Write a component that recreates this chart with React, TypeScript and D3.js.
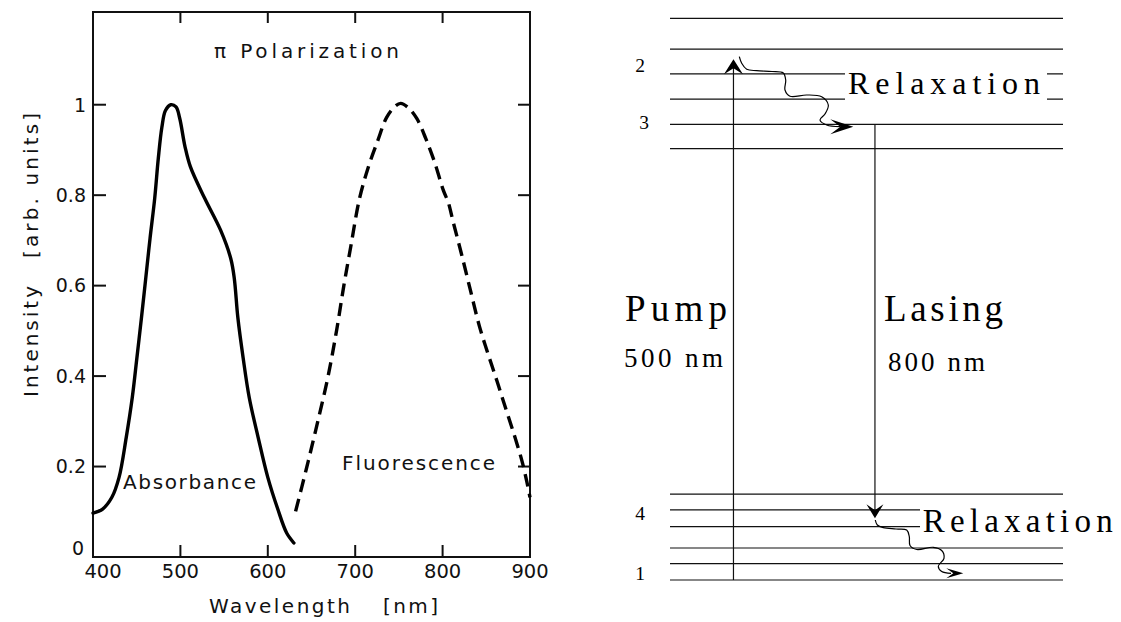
import React from "react";
import * as d3 from "d3";

// ---------- Left chart data ----------
const absWavelength = [400, 411, 421.6, 429.8, 438, 444.9, 450.2, 455.5, 460.4, 465.3, 470.6, 474.7, 478.8, 482.9, 489, 495, 499.2, 505.3, 511.4, 527.8, 546.1, 557.6, 561.6, 565.7, 571.8, 578.8, 589, 600, 611.4, 621.6, 629.8];
const absIntensity = [0.097, 0.106, 0.132, 0.176, 0.264, 0.352, 0.44, 0.53, 0.617, 0.705, 0.793, 0.881, 0.95, 0.987, 1.0, 0.995, 0.97, 0.907, 0.863, 0.793, 0.722, 0.66, 0.617, 0.53, 0.44, 0.352, 0.264, 0.176, 0.106, 0.053, 0.031];

const fluWavelength = [631.8, 644, 656, 668.6, 678.8, 687, 695, 705, 715.5, 725.7, 736, 746, 752, 760.4, 770.6, 780.8, 791, 801, 806.5, 812.2, 821.6, 831.8, 842, 852, 862.4, 872.6, 882.9, 891, 896.3, 900];
const fluIntensity = [0.101, 0.194, 0.29, 0.396, 0.502, 0.6, 0.687, 0.793, 0.865, 0.92, 0.972, 0.997, 1.003, 0.994, 0.969, 0.925, 0.872, 0.81, 0.784, 0.74, 0.67, 0.59, 0.511, 0.449, 0.388, 0.326, 0.264, 0.211, 0.167, 0.132];

const xTickValues = [400, 500, 600, 700, 800, 900];
const xTickLabels = ["400", "500", "600", "700", "800", "900"];
const yTickValues = [0, 0.2, 0.4, 0.6, 0.8, 1];
const yTickLabels = ["0", "0.2", "0.4", "0.6", "0.8", "1"];

// ---------- Right diagram data (energy, arbitrary units) ----------
const upperLevels = [100, 94.5, 90.1, 85.6, 81.1, 76.8];
const lowerLevels = [15.3, 12.5, 9.5, 5.7, 2.9, 0];
const levelNames = ["2", "3", "4", "1"];
const levelNameEnergies = [90.4, 80.3, 10.7, 0];
const pumpFrom = 0;
const pumpTo = 92.7;
const laseFrom = 81.1;
const laseTo = 11.0;

const sansFont = "'DejaVu Sans', Verdana, sans-serif";
const serifFont = "'Liberation Serif', 'Times New Roman', serif";

export default function App() {
  // left chart scales
  const x = d3.scaleLinear().domain([400, 900]).range([93, 530]);
  const y = d3.scaleLinear().domain([0, 1.205]).range([557, 12]);

  const curve = d3
    .line<[number, number]>()
    .x((d) => x(d[0]))
    .y((d) => y(d[1]))
    .curve(d3.curveCatmullRom.alpha(0.5));

  const absPath = curve(absWavelength.map((w, i) => [w, absIntensity[i]]) as [number, number][]) || "";
  const fluPath = curve(fluWavelength.map((w, i) => [w, fluIntensity[i]]) as [number, number][]) || "";

  // right diagram scales
  const e = d3.scaleLinear().domain([0, 100]).range([580, 18.3]);
  const hx = d3.scaleLinear().domain([0, 1]).range([670, 1063]);
  const pumpX = hx(0.1615);
  const laseX = hx(0.5215);

  const wavy = d3
    .line<[number, number]>()
    .x((d) => d[0])
    .y((d) => d[1])
    .curve(d3.curveCatmullRom.alpha(0.5));

  const topWave: [number, number][] = [
    [739.3, 56.7], [741.7, 63.3], [746.7, 69.3], [756.7, 70.7], [772, 71.5], [783.3, 73],
    [785.7, 80], [785, 90], [790, 96.2], [806.7, 95], [821.7, 96.7], [828.3, 105],
    [825, 114], [820, 120], [826.7, 125], [840, 126.7],
  ];
  const botWave: [number, number][] = [
    [875.3, 520], [877.3, 525], [883.3, 527.7], [896, 529], [906.7, 530], [909.3, 536.7],
    [910, 545.5], [916.7, 549.5], [933.3, 547.3], [941.7, 550.5], [944, 558.3],
    [938.3, 566.2], [941.7, 571.5], [951, 573.3],
  ];

  const arrowHead = (tx: number, ty: number, dir: "up" | "down" | "right", len: number, half: number, notch: number) => {
    if (dir === "up")
      return `M${tx},${ty} L${tx + half},${ty + len} L${tx},${ty + len - notch} L${tx - half},${ty + len} Z`;
    if (dir === "down")
      return `M${tx},${ty} L${tx + half},${ty - len} L${tx},${ty - len + notch} L${tx - half},${ty - len} Z`;
    return `M${tx},${ty} L${tx - len},${ty - half} L${tx - len + notch},${ty} L${tx - len},${ty + half} Z`;
  };

  const upperY = upperLevels.map((v) => e(v));
  const lowerY = lowerLevels.map((v) => e(v));

  return (
    <svg
      width={1121}
      height={622}
      style={{ position: "absolute", left: 0, top: 0, background: "#fff" }}
    >
      <rect x={0} y={0} width={1121} height={622} fill="#fff" />

      {/* ---------------- Left chart ---------------- */}
      <g>
        <rect x={x(400)} y={y(1.205)} width={x(900) - x(400)} height={y(0) - y(1.205)} fill="none" stroke="#111" strokeWidth={2} />
        {xTickValues.slice(1, -1).map((t) => (
          <g key={"xt" + t}>
            <line x1={x(t)} x2={x(t)} y1={y(0)} y2={y(0) - 12} stroke="#111" strokeWidth={2} />
            <line x1={x(t)} x2={x(t)} y1={y(1.205)} y2={y(1.205) + 11} stroke="#111" strokeWidth={2} />
          </g>
        ))}
        {yTickValues.slice(1).map((t) => (
          <g key={"yt" + t}>
            <line x1={x(400)} x2={x(400) + 13} y1={y(t)} y2={y(t)} stroke="#111" strokeWidth={2} />
            <line x1={x(900)} x2={x(900) - 12} y1={y(t)} y2={y(t)} stroke="#111" strokeWidth={2} />
          </g>
        ))}
        {xTickValues.map((t, i) => (
          <text key={"xl" + t} x={t === 400 ? x(t) + 10 : x(t)} y={578} textAnchor="middle" fontFamily={sansFont} fontSize={19.5} fill="#111">
            {xTickLabels[i]}
          </text>
        ))}
        {yTickValues.map((t, i) => (
          <text key={"yl" + t} x={t === 0 ? 84 : 86} y={t === 0 ? y(t) - 9 : y(t)} dy="0.36em" textAnchor="end" fontFamily={sansFont} fontSize={19} fill="#111">
            {yTickLabels[i]}
          </text>
        ))}

        <path d={absPath} fill="none" stroke="#000" strokeWidth={3.4} strokeLinejoin="round" strokeLinecap="round" />
        <path d={fluPath} fill="none" stroke="#000" strokeWidth={3.4} strokeDasharray="13 7" />

        <text x={214} y={58} fontFamily={sansFont} fontSize={20} fill="#111" textLength={185} lengthAdjust="spacing">
          π Polarization
        </text>
        <text x={123} y={489} fontFamily={sansFont} fontSize={20} fill="#111" textLength={133} lengthAdjust="spacing">
          Absorbance
        </text>
        <text x={342} y={470} fontFamily={sansFont} fontSize={20} fill="#111" textLength={153} lengthAdjust="spacing">
          Fluorescence
        </text>
        <text x={209} y={613} fontFamily={sansFont} fontSize={20} fill="#111" textLength={141} lengthAdjust="spacing">
          Wavelength
        </text>
        <text x={383} y={613} fontFamily={sansFont} fontSize={20} fill="#111" textLength={55} lengthAdjust="spacing">
          [nm]
        </text>
        <text transform="translate(37.5,397) rotate(-90)" fontFamily={sansFont} fontSize={20} fill="#111" textLength={111} lengthAdjust="spacing">
          Intensity
        </text>
        <text transform="translate(37.5,258) rotate(-90)" fontFamily={sansFont} fontSize={20} fill="#111" textLength={145} lengthAdjust="spacing">
          [arb. units]
        </text>
      </g>

      {/* ---------------- Right diagram ---------------- */}
      <g>
        {upperY.map((yy, i) => (
          <line key={"u" + i} x1={hx(0)} x2={hx(1)} y1={yy} y2={yy} stroke="#111" strokeWidth={1.2} />
        ))}
        {lowerY.map((yy, i) => (
          <line key={"l" + i} x1={hx(0)} x2={hx(1)} y1={yy} y2={yy} stroke="#111" strokeWidth={1.2} />
        ))}

        {/* pump arrow */}
        <line x1={pumpX} x2={pumpX} y1={e(pumpFrom)} y2={e(pumpTo) + 6} stroke="#111" strokeWidth={1.2} />
        <path d={arrowHead(pumpX, e(pumpTo), "up", 15, 9.5, 6)} fill="#000" />

        {/* lasing arrow */}
        <line x1={laseX} x2={laseX} y1={e(laseFrom)} y2={e(laseTo) - 6} stroke="#111" strokeWidth={1.2} />
        <path d={arrowHead(laseX, e(laseTo), "down", 14, 8.5, 6)} fill="#000" />

        {/* relaxation waves */}
        <path d={wavy(topWave) || ""} fill="none" stroke="#000" strokeWidth={1.2} />
        <path d={arrowHead(853.3, 126.7, "right", 23, 7.5, 10)} fill="#000" />
        <path d={wavy(botWave) || ""} fill="none" stroke="#000" strokeWidth={1.2} />
        <path d={arrowHead(963.3, 573.3, "right", 17, 5, 7)} fill="#000" />

        {/* Relaxation labels with white background */}
        <rect x={845} y={68} width={202} height={34} fill="#fff" />
        <text x={848} y={94.3} fontFamily={serifFont} fontSize={32} fill="#000" textLength={192} lengthAdjust="spacing">
          Relaxation
        </text>
        <rect x={920} y={504} width={200} height={37} fill="#fff" />
        <text x={922.7} y={531.7} fontFamily={serifFont} fontSize={33} fill="#000" textLength={190} lengthAdjust="spacing">
          Relaxation
        </text>

        <text x={625} y={321} fontFamily={serifFont} fontSize={37} fill="#000" textLength={102} lengthAdjust="spacing">
          Pump
        </text>
        <text x={884} y={321} fontFamily={serifFont} fontSize={37} fill="#000" textLength={119} lengthAdjust="spacing">
          Lasing
        </text>
        <text x={624} y={367} fontFamily={serifFont} fontSize={27} fill="#000" textLength={99} lengthAdjust="spacing">
          500 nm
        </text>
        <text x={888} y={371} fontFamily={serifFont} fontSize={27} fill="#000" textLength={97} lengthAdjust="spacing">
          800 nm
        </text>

        {levelNames.map((n, i) => (
          <text key={"ln" + n} x={i === 1 ? 644 : 640} y={e(levelNameEnergies[i])} textAnchor="middle" fontFamily={serifFont} fontSize={19.5} fill="#000">
            {n}
          </text>
        ))}
      </g>
    </svg>
  );
}
